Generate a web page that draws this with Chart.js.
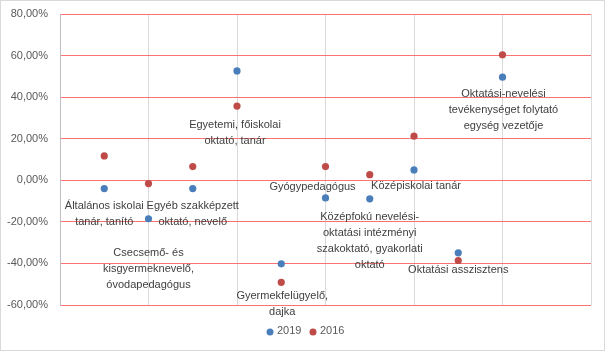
<!DOCTYPE html>
<html><head><meta charset="utf-8">
<script src="https://cdn.jsdelivr.net/npm/chart.js@4"></script>
<style>
html,body{margin:0;padding:0;background:#fff;}
#wrap{position:relative;width:605px;height:351px;}
</style></head>
<body><div id="wrap"><canvas id="c" width="605" height="351"></canvas></div>
<script>
const categories = [
  "Általános iskolai\ntanár, tanító",
  "Csecsemő- és\nkisgyermeknevelő,\nóvodapedagógus",
  "Egyéb szakképzett\noktató, nevelő",
  "Egyetemi, főiskolai\noktató, tanár",
  "Gyermekfelügyelő,\ndajka",
  "Gyógypedagógus",
  "Középfokú nevelési-\noktatási intézményi\nszakoktató, gyakorlati\noktató",
  "Középiskolai tanár",
  "Oktatási asszisztens",
  "Oktatási-nevelési\ntevékenységet folytató\negység vezetője"
];
const seriesNames = ["2019", "2016"];
const values2019 = [-0.040, -0.185, -0.040, 0.526, -0.402, -0.085, -0.089, 0.050, -0.349, 0.496];
const values2016 = [0.117, -0.016, 0.066, 0.357, -0.491, 0.066, 0.027, 0.212, -0.386, 0.604];
const yTicks = [-0.6, -0.4, -0.2, 0, 0.2, 0.4, 0.6, 0.8];

const colors = ['#4A7EBB', '#BE4B48'];
// label placement: [reference series index, dx px, dy px]
const labelPlace = [[0,0,17],[0,0,34],[0,0,17],[1,-2,19],[1,1,14],[1,-13,20],[0,0,18],[0,2,16],[1,0,9],[0,1,17]];

const FONT = '"Liberation Sans", Arial, sans-serif';

const toPts = arr => arr.map((v,i)=>({x:i+1, y:v}));

const labelsPlugin = {
  id:'labelsPlugin',
  afterDatasetsDraw(chart){
    const ctx = chart.ctx;
    const xs = chart.scales.x, ys = chart.scales.y;
    ctx.save();
    ctx.font = '11px ' + FONT;
    ctx.fillStyle = '#404040';
    ctx.textAlign = 'center';
    ctx.textBaseline = 'middle';
    categories.forEach((lab,i)=>{
      const p = labelPlace[i];
      const v = p[0]===0 ? values2019[i] : values2016[i];
      const cx = xs.getPixelForValue(i+1) + p[1];
      const cy = ys.getPixelForValue(v) + p[2];
      lab.split('\n').forEach((ln,k)=>ctx.fillText(ln, cx, cy + k*16));
    });
    // legend
    const lx = [270, 313];
    const ly = 332;
    ctx.textAlign = 'left';
    seriesNames.forEach((n,k)=>{
      ctx.beginPath();
      ctx.arc(lx[k], ly, 3.5, 0, Math.PI*2);
      ctx.fillStyle = colors[k];
      ctx.fill();
      ctx.fillStyle = '#595959';
      ctx.fillText(n, lx[k]+7, ly-1);
    });
    // outer border
    ctx.strokeStyle = '#D9D9D9';
    ctx.lineWidth = 1;
    ctx.strokeRect(0.5, 0.5, 604, 350);
    ctx.restore();
  }
};

new Chart(document.getElementById('c'), {
  type:'scatter',
  data:{
    datasets:[
      {label:seriesNames[0], data:toPts(values2019), backgroundColor:colors[0], borderColor:colors[0], pointRadius:3.6, pointHoverRadius:3.6, borderWidth:0},
      {label:seriesNames[1], data:toPts(values2016), backgroundColor:colors[1], borderColor:colors[1], pointRadius:3.6, pointHoverRadius:3.6, borderWidth:0}
    ]
  },
  options:{
    responsive:false,
    animation:false,
    events:[],
    layout:{padding:{left:0, right:14, top:14, bottom:46}},
    plugins:{legend:{display:false}, tooltip:{enabled:false}},
    scales:{
      x:{
        type:'linear', min:0, max:12,
        ticks:{display:false, stepSize:2},
        grid:{color:'#D9D9D9', drawTicks:false, lineWidth:1},
        border:{display:false},
        afterFit(s){s.height=0; s.paddingLeft=0; s.paddingRight=0;}
      },
      y:{
        min:-0.6, max:0.8,
        afterBuildTicks(s){ s.ticks = yTicks.map(v=>({value:v})); },
        ticks:{
          color:'#595959', padding:12,
          font:{family:FONT, size:11},
          callback:v=> (v*100).toFixed(2).replace('.', ',') + '%'
        },
        grid:{color:'#FA7373', drawTicks:false, lineWidth:1},
        border:{display:true, color:'#BFBFBF'},
        afterFit(s){s.width=60; s.paddingTop=0; s.paddingBottom=0;}
      }
    }
  },
  plugins:[labelsPlugin]
});
</script></body></html>
